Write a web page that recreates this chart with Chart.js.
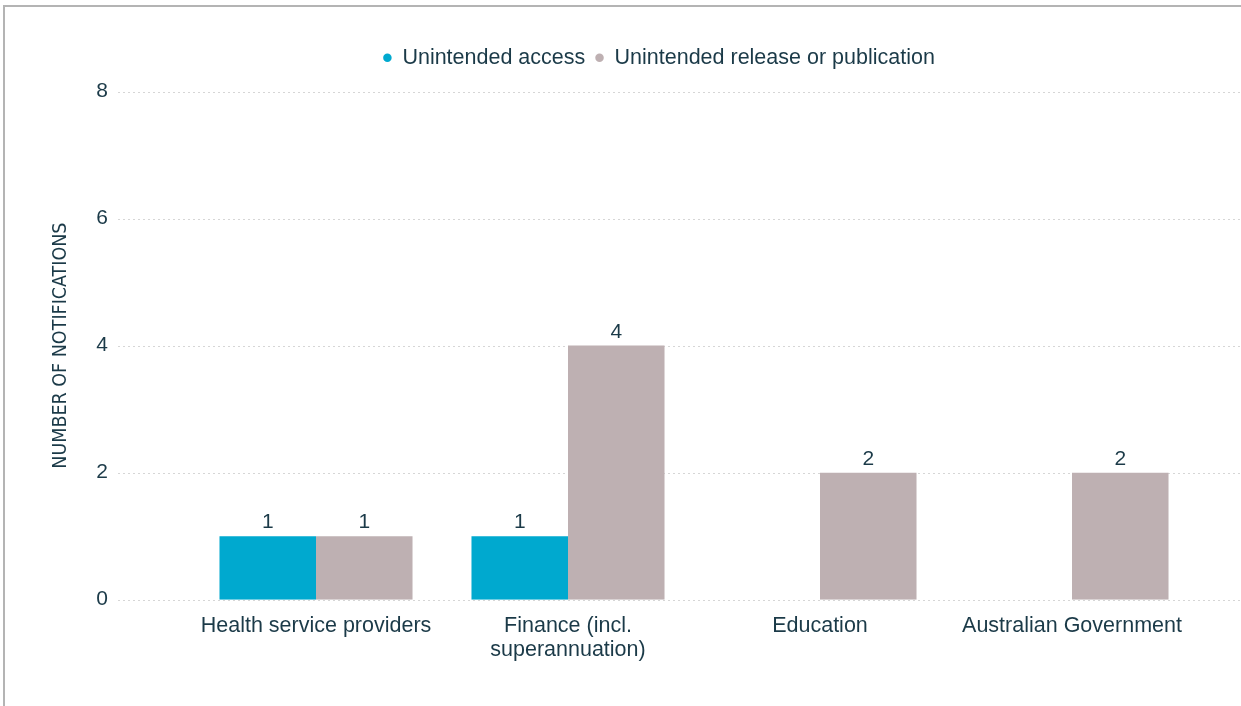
<!DOCTYPE html>
<html>
<head>
<meta charset="utf-8">
<title>Notifications by sector</title>
<script src="https://cdn.jsdelivr.net/npm/chart.js"></script>
<style>
  html, body { margin: 0; padding: 0; background: #fff; overflow: hidden; }
  #frame {
    position: absolute; left: 3px; top: 5px; width: 1260px; height: 720px;
    border-top: 2px solid #b4b4b4; border-left: 2px solid #b4b4b4;
  }
  #wrap { position: absolute; left: 0; top: 0; width: 1241px; height: 706px; }
</style>
</head>
<body>
<div id="frame"></div>
<div id="wrap"><canvas id="myChart"></canvas></div>
<script>
const categories = [
  'Health service providers',
  ['Finance (incl.', 'superannuation)'],
  'Education',
  'Australian Government'
]
const seriesNames = ['Unintended access', 'Unintended release or publication']
const accessValues = [1, 1, 0, 0]
const releaseValues = [1, 4, 2, 2]
const yTicks = [0, 2, 4, 6, 8]

const textColor = '#1b3a48'
const baseFont = "'Liberation Sans', Arial, sans-serif"
const narrowFont = "'DejaVu Sans Condensed', 'Liberation Sans Narrow', 'Liberation Sans', sans-serif"

// dotted guide lines run past the plot area on both sides
const guideLines = {
  id: 'guideLines',
  beforeDatasetsDraw(chart) {
    const { ctx, chartArea, scales: { y } } = chart
    ctx.save()
    ctx.strokeStyle = '#d6d6d6'
    ctx.lineWidth = 1
    ctx.setLineDash([2, 3])
    y.ticks.forEach(t => {
      const py = Math.round(y.getPixelForValue(t.value)) + 0.5
      ctx.beginPath()
      ctx.moveTo(chartArea.left - 72, py)
      ctx.lineTo(chart.width, py)
      ctx.stroke()
    })
    ctx.restore()
  }
}

// value above each non-empty bar
const valueLabels = {
  id: 'valueLabels',
  afterDatasetsDraw(chart) {
    const { ctx } = chart
    ctx.save()
    ctx.font = '21px ' + baseFont
    ctx.fillStyle = textColor
    ctx.textAlign = 'center'
    ctx.textBaseline = 'alphabetic'
    chart.data.datasets.forEach((ds, i) => {
      chart.getDatasetMeta(i).data.forEach((bar, j) => {
        if (!ds.data[j]) return
        ctx.fillText(ds.data[j], bar.x, bar.y - 8)
      })
    })
    ctx.restore()
  }
}

// nudge the legend right and up, away from the plot
const legendPlacement = {
  id: 'legendPlacement',
  afterLayout(chart) {
    const legend = chart.legend
    legend.left += 90
    legend.top -= 13
    legend.bottom -= 13
  }
}

var ctx = document.getElementById('myChart').getContext('2d')
var myBarChart = new Chart(ctx, {
  type: 'bar',
  data: {
    labels: categories,
    datasets: [
      {
        label: seriesNames[0],
        data: accessValues,
        backgroundColor: '#00a9cf'
      },
      {
        label: seriesNames[1],
        data: releaseValues,
        backgroundColor: '#beb0b2'
      }
    ]
  },
  options: {
    responsive: true,
    maintainAspectRatio: false,
    animation: false,
    datasets: {
      bar: { barPercentage: 1, categoryPercentage: 0.766, borderWidth: 0 }
    },
    layout: { padding: { left: 30, right: 43, top: 50, bottom: 37 } },
    plugins: {
      tooltip: { enabled: false },
      legend: {
        position: 'top',
        align: 'center',
        labels: {
          usePointStyle: true,
          pointStyle: 'circle',
          boxHeight: 6,
          pointStyleWidth: 8.5,
          padding: 10,
          color: textColor,
          font: { size: 21.5, family: baseFont }
        }
      }
    },
    scales: {
      x: {
        grid: { display: false },
        border: { display: false },
        ticks: {
          padding: 7,
          color: textColor,
          maxRotation: 0,
          autoSkip: false,
          font: { size: 21.5, family: baseFont, lineHeight: 1.1 }
        }
      },
      y: {
        min: 0,
        max: 8,
        afterBuildTicks: scale => {
          scale.ticks = yTicks.map(v => ({ value: v }))
        },
        afterFit: scale => {
          scale.width = 160
        },
        grid: { display: false },
        border: { display: false },
        ticks: {
          padding: 74,
          color: textColor,
          font: { size: 21, family: baseFont }
        },
        title: {
          display: true,
          text: 'NUMBER OF NOTIFICATIONS',
          color: textColor,
          padding: { top: 19, bottom: 0 },
          font: { size: 19.5, family: narrowFont }
        }
      }
    }
  },
  plugins: [guideLines, valueLabels, legendPlacement]
})
</script>
</body>
</html>
